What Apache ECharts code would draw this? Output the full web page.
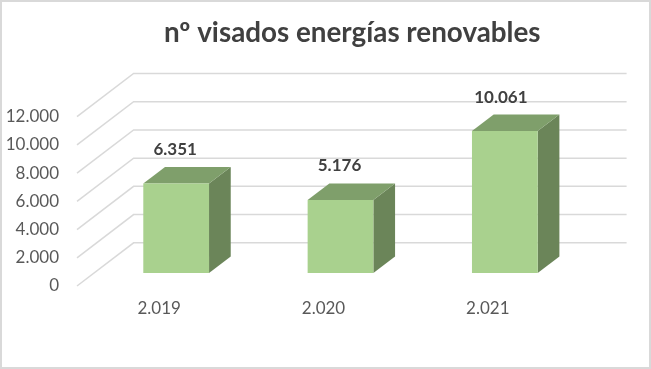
<!DOCTYPE html>
<html><head><meta charset="utf-8">
<style>html,body{margin:0;padding:0;background:#fff}#c{width:651px;height:369px}</style>
<script src="https://cdn.jsdelivr.net/npm/echarts@6/dist/echarts.min.js"></script>
</head><body><div id="c"></div>
<script>
const titleText = 'nº visados energías renovables';
const categories = ['2.019', '2.020', '2.021'];
const visados = [6351, 5176, 10061];
const yTicks = [0, 2000, 4000, 6000, 8000, 10000, 12000];

const fmt = v => String(v).replace(/\B(?=(\d{3})+$)/g, '.');
const WALL = [56.6, -43.2], BAR = [21.7, -16.5];
const FONT = 'Lato, "Open Sans", sans-serif';

const chart = echarts.init(document.getElementById('c'), null, {renderer: 'canvas'});
chart.setOption({
  animation: false,
  backgroundColor: '#fff',
  title: {text: titleText, left: 164, top: 19, padding: 0,
    textStyle: {fontFamily: FONT, fontSize: 27.8, fontWeight: 'bold', color: '#404040'}},
  graphic: [{type: 'rect', silent: true, z: -1,
    shape: {x: 1, y: 1, width: 649, height: 367},
    style: {fill: 'none', stroke: '#D9D9D9', lineWidth: 2}}],
  grid: [
    {left: 77, width: 493, top: 116.7, height: 169.3},
    {left: 94, width: 493, top: 103.7, height: 169.3}
  ],
  xAxis: [
    {gridIndex: 0, type: 'category', data: categories,
      axisLine: {show: false}, axisTick: {show: false},
      axisLabel: {margin: 14, fontFamily: FONT, fontSize: 17, color: '#595959'}},
    {gridIndex: 1, type: 'category', data: categories, show: false}
  ],
  yAxis: [
    {gridIndex: 0, type: 'value', min: 0, max: 12000, interval: 2000,
      axisLine: {show: false}, axisTick: {show: false}, splitLine: {show: false},
      axisLabel: {margin: 18, padding: [2, 0, 0, 0], fontFamily: FONT, fontSize: 17, color: '#595959', formatter: fmt}},
    {gridIndex: 1, type: 'value', min: 0, max: 12000, interval: 2000, show: false}
  ],
  series: [
    {
      type: 'custom', xAxisIndex: 0, yAxisIndex: 0, z: 1, silent: true,
      data: yTicks.map(v => [0, v]),
      encode: {x: 0, y: 1},
      renderItem(params, api) {
        const y = api.coord([0, api.value(1)])[1];
        const l = params.coordSys.x, r = l + params.coordSys.width;
        return {type: 'polyline',
          shape: {points: [[l, y], [l + WALL[0], y + WALL[1]], [r + WALL[0], y + WALL[1]]]},
          style: {fill: 'none', stroke: '#D9D9D9', lineWidth: 1.5}};
      }
    },
    {
      type: 'custom', xAxisIndex: 1, yAxisIndex: 1, z: 2, silent: true,
      data: visados.map((v, i) => [i, v]),
      encode: {x: 0, y: 1},
      renderItem(params, api) {
        const top = api.coord([api.value(0), api.value(1)]);
        const base = api.coord([api.value(0), 0]);
        const w = api.size([1, 0])[0] * 0.4;
        const x0 = top[0] - w / 2, x1 = top[0] + w / 2;
        const dx = BAR[0], dy = BAR[1];
        return {type: 'group', children: [
          {type: 'polygon', shape: {points: [[x1, top[1]], [x1 + dx, top[1] + dy], [x1 + dx, base[1] + dy], [x1, base[1]]]},
            style: {fill: '#6B8559'}},
          {type: 'polygon', shape: {points: [[x0, top[1]], [x0 + dx, top[1] + dy], [x1 + dx, top[1] + dy], [x1, top[1]]]},
            style: {fill: '#7F9F6B'}},
          {type: 'rect', shape: {x: x0, y: top[1], width: w, height: base[1] - top[1]},
            style: {fill: '#A9D18E'}},
          {type: 'text', x: top[0] - 1 - (api.value(0) === 2 ? 3 : 0), y: top[1] - 34,
            style: {text: fmt(api.value(1)), align: 'center', verticalAlign: 'middle',
              font: 'bold 17px ' + FONT, fill: '#404040'}}
        ]};
      }
    }
  ]
});
</script></body></html>
